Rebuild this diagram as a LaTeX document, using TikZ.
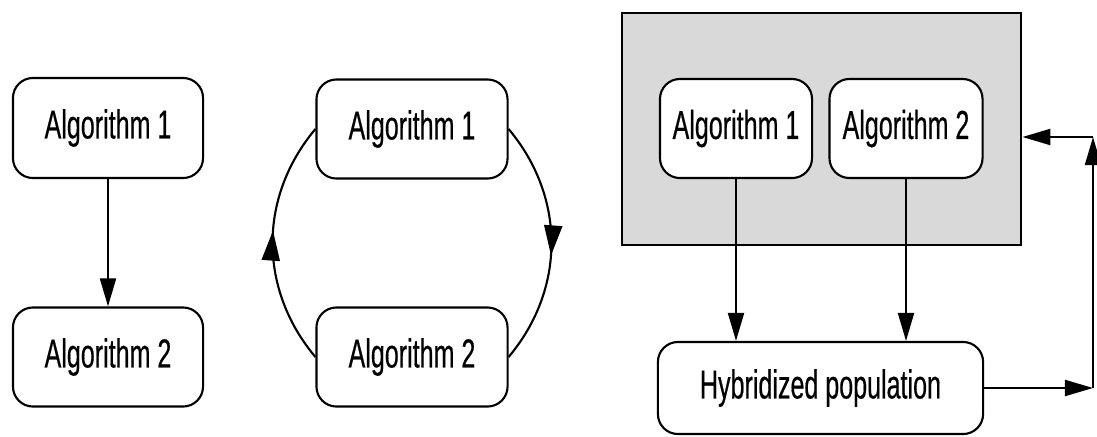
\documentclass[tikz,border=0pt]{standalone}
\usepackage{fontspec}
\setmainfont{Liberation Sans}[FakeStretch=0.62,FakeBold=0.4]
\usepackage{tikz}
\usetikzlibrary{arrows.meta}
\usetikzlibrary{decorations.markings}
\tikzset{
algbox/.style={
  rectangle, draw, fill=white,
  rounded corners=0.2cm,
  line width=0.6pt,
  inner sep=0pt,
  minimum height=0.99cm,
  font=\fontsize{11.5}{13}\selectfont
},
flow/.style={line width=0.6pt, -{Triangle[length=0.28cm,width=0.16cm]}},
midarrow/.style={
  line width=0.6pt, postaction={decorate},
  decoration={markings,
    mark=at position 0.55 with {\arrow{Triangle[length=0.3cm,width=0.18cm]}}}
},
}

\begin{document}
\begin{tikzpicture}[x=0.01cm,y=-0.01cm]
\useasboundingbox (0,0) rectangle (1097,436);
% one after the other
\node[algbox, minimum width=1.9cm, minimum height=1cm] (seq-1) at (108,128) {Algorithm 1};
\node[algbox, minimum width=1.9cm] (seq-2) at (108,357) {Algorithm 2};
\draw[flow] (seq-1) -- (seq-2);
% in a cycle
\node[algbox, minimum width=1.91cm] (cyc-1) at (412,129) {Algorithm 1};
\node[algbox, minimum width=1.91cm] (cyc-2) at (412,357) {Algorithm 2};
\draw[midarrow] (cyc-1.east) to[out=-50,in=50] (cyc-2.east);
\draw[midarrow] (cyc-2.west) to[out=130,in=-130] (cyc-1.west);
% hybridized
\node[draw, fill=gray!30, line width=0.7pt, inner sep=0pt,
      minimum width=3.99cm, minimum height=2.32cm] (pool) at (821.5,129) {};
\node[algbox, minimum width=1.52cm] (hyb-1) at (736,128.5) {Algorithm 1};
\node[algbox, minimum width=1.53cm] (hyb-2) at (906,128.5) {Algorithm 2};
\node[algbox, minimum width=3.25cm, minimum height=0.92cm] (pop) at (820.5,388) {Hybridized population};
\foreach \k in {1,2}
{
  \draw[flow] (hyb-\k.south) -- (hyb-\k.south |- pop.north);
}
% the feedback
\coordinate (back-b) at (1093,388);
\coordinate (back-t) at (1093,137);
\draw[flow] (pop.east) -- (back-b);
\draw[flow] (back-b) -- (back-t);
\draw[flow] (back-t) -- (back-t -| pool.east);
\end{tikzpicture}
\end{document}
